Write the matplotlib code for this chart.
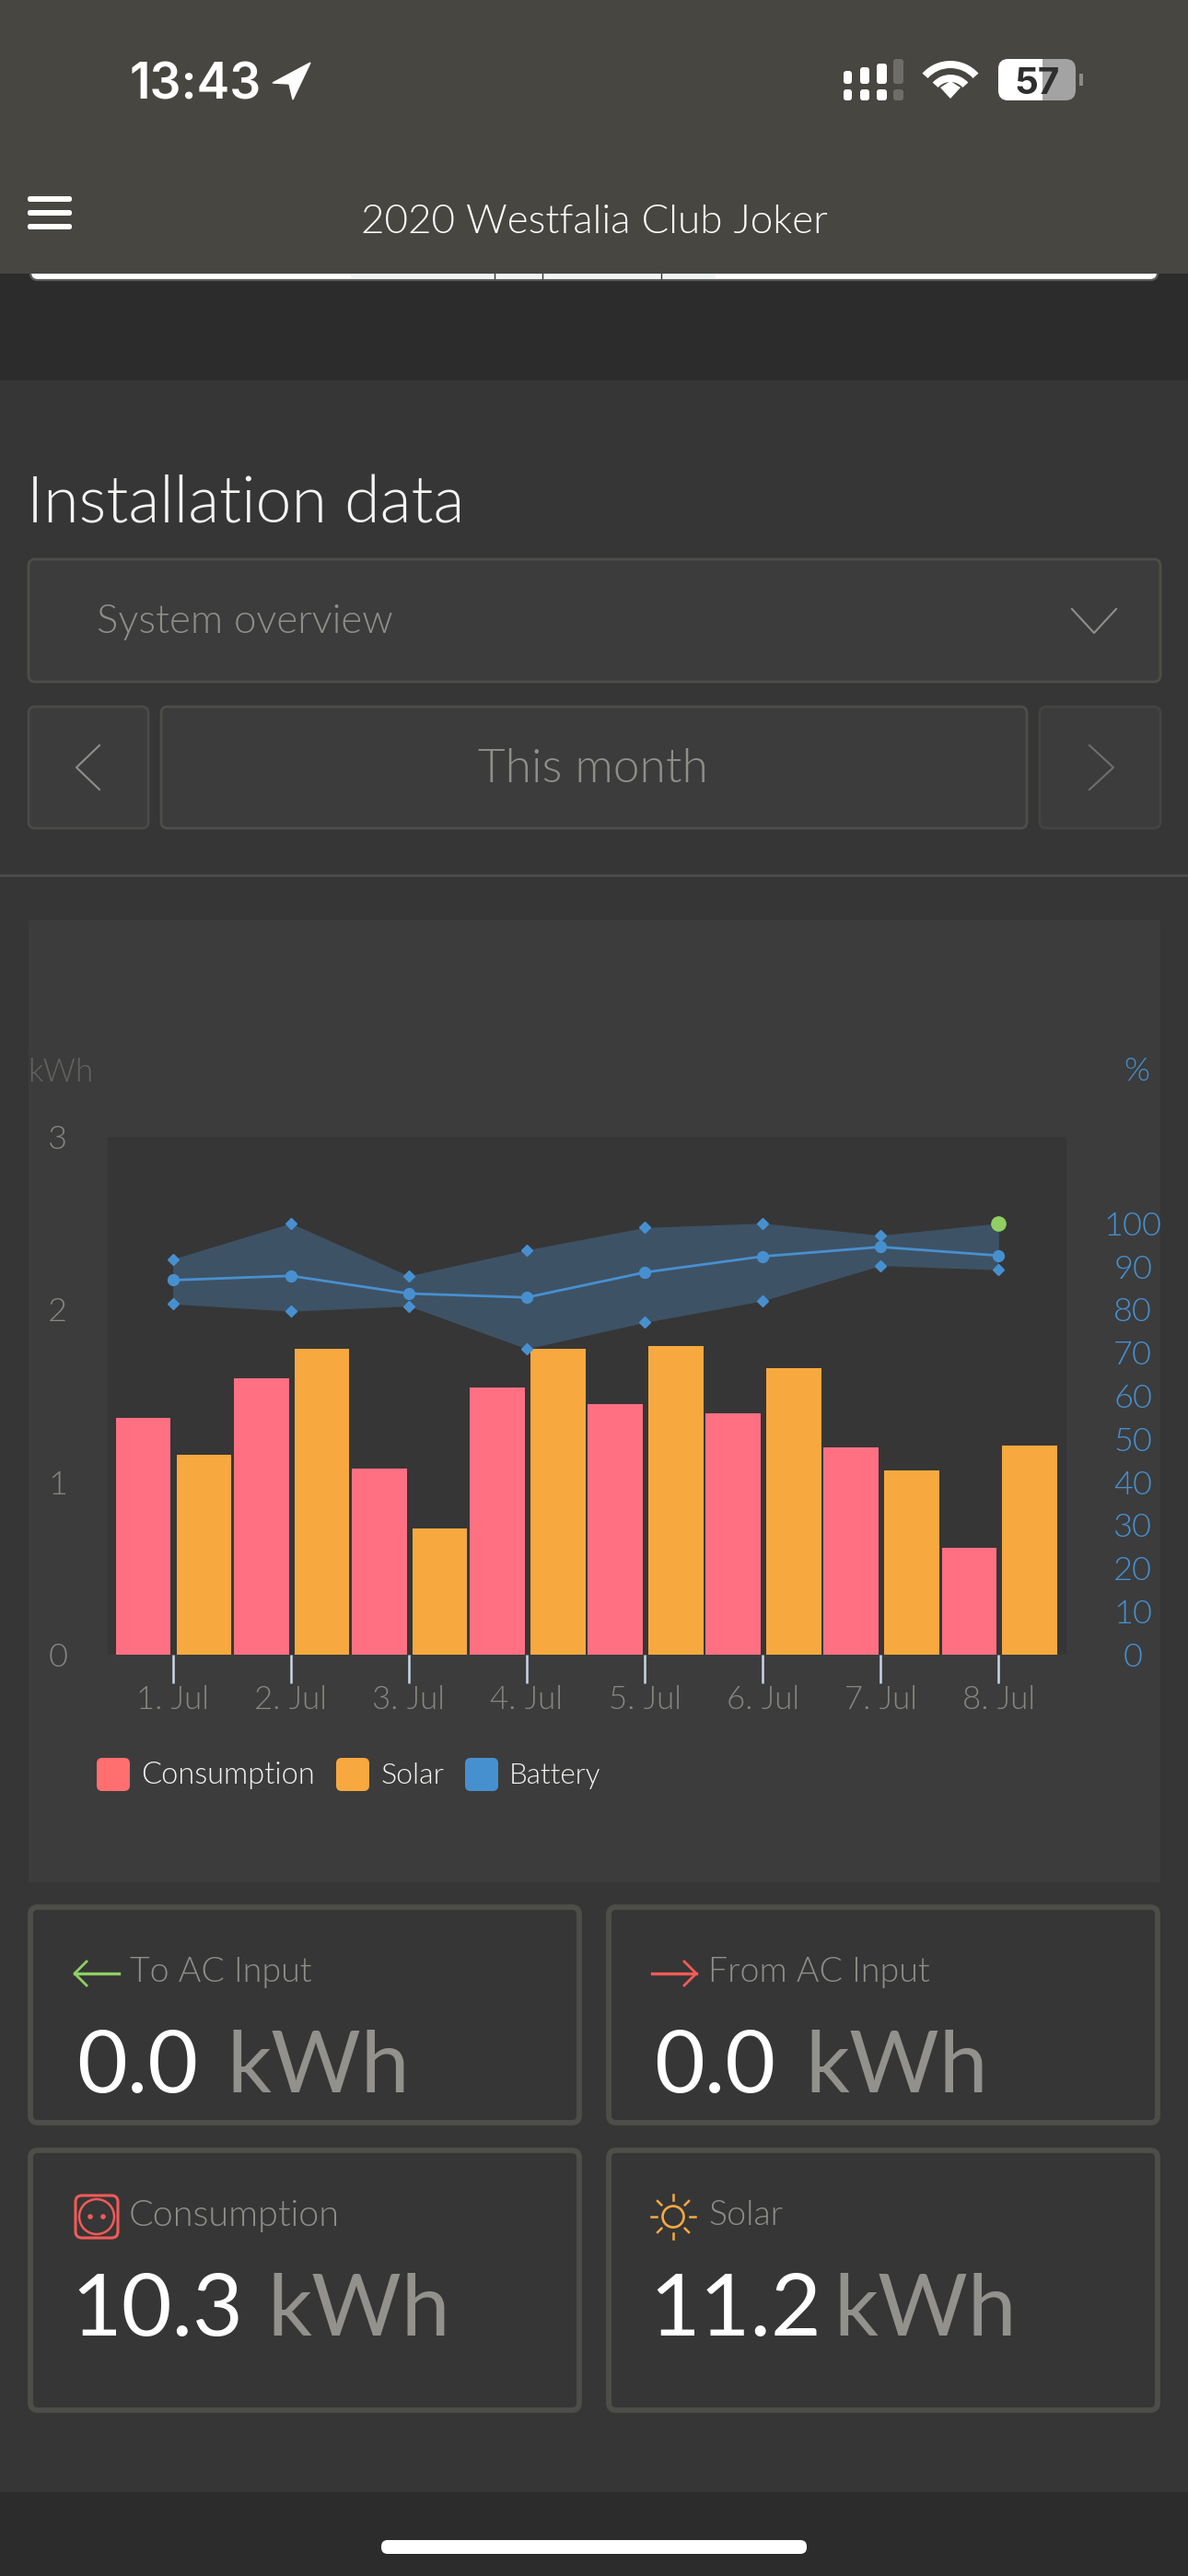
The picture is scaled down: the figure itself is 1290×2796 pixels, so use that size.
#!/usr/bin/env python3
"""Phone screenshot of the installation data page, drawn in pixel coordinates."""

import numpy as np
import matplotlib
matplotlib.use('Agg')
import matplotlib.pyplot as plt
from matplotlib.patches import Circle, FancyBboxPatch, Polygon, Rectangle, Wedge

plt.rcParams['font.family'] = ['Lato', 'DejaVu Sans']

W, H = 1290, 2796

days = ['1. Jul', '2. Jul', '3. Jul', '4. Jul', '5. Jul', '6. Jul', '7. Jul', '8. Jul']
consumption = [1.37, 1.60, 1.08, 1.55, 1.45, 1.40, 1.20, 0.62]
solar = [1.16, 1.77, 0.73, 1.77, 1.79, 1.66, 1.07, 1.21]
battery_mean = [86.8, 87.8, 83.7, 82.8, 88.6, 92.3, 94.5, 92.5]
battery_max = [91.7, 100, 87.8, 93.8, 99, 100, 97.2, 100]
battery_min = [81.3, 79.6, 80.8, 70.9, 77, 82, 90.2, 89.2]
kwh_ticks = [0, 1, 2, 3]
pct_ticks = [0, 10, 20, 30, 40, 50, 60, 70, 80, 90, 100]
legend_names = ['Consumption', 'Solar', 'Battery']
card_titles = ['To AC Input', 'From AC Input', 'Consumption', 'Solar']
card_values = ['0.0', '0.0', '10.3', '11.2']

BAR = '#2c2c2c'
TOP = '#474641'
SECTION = '#363636'
CARD = '#3c3c3c'
BORDER = '#4e4e49'
GREY = '#8f8e89'
RED = '#ff7083'
ORANGE = '#f7a93f'
BLUE = '#4790d0'
GREEN = '#8fcf63'
LIGHT = 300


def box(ax, x0, y0, x1, y1, face='none', edge=BORDER, lw=2.0, r=8, z=2):
    ax.add_patch(FancyBboxPatch((x0 + r, y0 + r), x1 - x0 - 2 * r, y1 - y0 - 2 * r,
                                boxstyle=f'round,pad={r},rounding_size={r}',
                                fc=face, ec=edge, lw=lw, zorder=z))


def draw_status(ui):
    ui.text(141, 107, '13:43', color='white', fontsize=38.5, fontweight='semibold',
            family=['Inter', 'DejaVu Sans'], va='baseline')
    ui.add_patch(Polygon([[296, 90], [337, 68], [318, 108], [314, 91]], fc='white', ec='white', lw=1, zorder=2))

    # signal dots, two rows
    for x0, x1, top, c in [(916, 925, 77, 'white'), (934, 944, 73, 'white'),
                           (952, 963, 69, 'white'), (970, 981, 64, '#6e6d69')]:
        box(ui, x0, top, x1, 91, face=c, edge='none', lw=0, r=3)
        box(ui, x0, 97, x1, 109, face=c, edge='none', lw=0, r=3)

    # wifi
    for r, width in [(41, 8), (26, 8)]:
        ui.add_patch(Wedge((1032, 107), r, 222, 318, width=width, fc='white', ec='none', zorder=2))
    ui.add_patch(Polygon([[1021, 95], [1032, 88], [1043, 95], [1032, 107]], fc='white', ec='none', zorder=2))

    # battery
    box(ui, 1084, 64, 1168, 109, face='#a3a3a3', edge='none', lw=0, r=11)
    box(ui, 1084, 64, 1146, 109, face='white', edge='none', lw=0, r=11, z=3)
    ui.add_patch(Rectangle((1132, 64), 16, 45, fc='#a3a3a3', ec='none', zorder=3))
    ui.add_patch(Rectangle((1172, 80), 4, 13, fc='#8a8a87', ec='none', zorder=2))
    ui.text(1126, 102, '57', color='#2e2e2e', fontsize=29, fontweight='bold', ha='center',
            va='baseline', family=['Inter', 'DejaVu Sans'], zorder=4)

    for y in (213, 228, 243):
        box(ui, 30, y, 78, y + 6, face='white', edge='none', lw=0, r=2.5)
    ui.text(645, 253, '2020 Westfalia Club Joker', color='white', fontsize=31.7, fontweight=LIGHT,
            ha='center', va='baseline')


def draw_controls(ui):
    ui.text(29, 567, 'Installation data', color='#f4f4f2', fontsize=50.3, fontweight=LIGHT, va='baseline')
    box(ui, 31, 607, 1260, 740, face=CARD, r=7)
    ui.text(105, 687, 'System overview', color=GREY, fontsize=31.5, fontweight=LIGHT, va='baseline')
    ui.plot([1164, 1188, 1212], [661, 687, 661], color='#8f8f8b', lw=1.5, zorder=3)

    box(ui, 31, 767, 161, 899, face=CARD, edge='#4a4a47', r=7)
    box(ui, 175, 767, 1115, 899, face=CARD, r=7)
    box(ui, 1129, 767, 1260, 899, face=CARD, edge='#444442', r=7)
    ui.text(644, 849, 'This month', color=GREY, fontsize=37, fontweight=LIGHT, ha='center', va='baseline')
    ui.plot([108, 83, 108], [809, 833, 857], color='#8f8f8b', lw=1.5, zorder=3)
    ui.plot([1183, 1209, 1183], [809, 833, 857], color='#6e6e6b', lw=1.5, zorder=3)
    ui.plot([0, W], [950, 950], color='#50504b', lw=1.8)


def draw_chart(fig, ui):
    ui.add_patch(Rectangle((31, 999), 1229, 1044, fc=CARD, ec='none'))
    ui.text(30, 1164, 'kWh', color='#62625f', fontsize=25, fontweight=LIGHT, va='center')
    ui.text(1234, 1163, '%', color=BLUE, fontsize=26, fontweight=LIGHT, ha='center', va='center')

    left, right, top, bottom = 117, 1158, 1234, 1796
    ax = fig.add_axes([left / W, 1 - bottom / H, (right - left) / W, (bottom - top) / H])
    ax.set_facecolor(SECTION)
    x = np.arange(len(days))
    ax.bar(x - 0.482, consumption, width=0.465, align='edge', color=RED)
    ax.bar(x + 0.032, solar, width=0.465, align='edge', color=ORANGE)
    ax.set_xlim(-0.551, 7.575)
    ax.set_ylim(0, 3)
    ax.set_xticks(x, days)
    ax.set_yticks(kwh_ticks)
    ax.tick_params(axis='x', length=22, width=1.8, color='#c8d6ea', labelcolor='#868681',
                   labelsize=25, pad=2)
    ax.tick_params(axis='y', length=0, labelcolor='#868681', labelsize=26, pad=39)
    for lab in ax.get_yticklabels():
        lab.set_ha('center')
        lab.set_fontweight(LIGHT)
    for lab in ax.get_xticklabels():
        lab.set_fontweight(LIGHT)

    ax2 = ax.twinx()
    ax2.set_ylim(0, 120)
    ax2.fill_between(x, battery_min, battery_max, color='#3e5265', lw=0)
    ax2.plot(x, battery_mean, color=BLUE, lw=2, marker='o', ms=8.5)
    ax2.plot(x[:-1], battery_max[:-1], ls='none', marker='D', ms=6.5, color=BLUE)
    ax2.plot(x, battery_min, ls='none', marker='D', ms=6.5, color=BLUE)
    ax2.plot(x[-1:], battery_max[-1:], ls='none', marker='o', ms=11, color=GREEN)
    ax2.set_yticks(pct_ticks)
    ax2.tick_params(axis='y', length=0, labelcolor=BLUE, labelsize=26, pad=52)
    for lab in ax2.get_yticklabels():
        lab.set_ha('center')
        lab.set_fontweight(LIGHT)
    for a in (ax, ax2):
        for s in a.spines.values():
            s.set_visible(False)

    # legend
    swatches = ['#ff6f6f', ORANGE, BLUE]
    for name, c, sx, tx, size in zip(legend_names, swatches, [105, 365, 505], [153, 414, 553], [23.5, 23, 22.5]):
        box(ui, sx, 1908, sx + 36, 1944, face=c, edge='none', lw=0, r=6, z=3)
        ui.text(tx, 1927, name, color='#f4f4f2', fontsize=size, fontweight=LIGHT, va='center')


def draw_card_icons(ui):
    # arrows
    ui.plot([81, 129], [2142, 2142], color=GREEN, lw=2.4)
    ui.plot([94, 81, 94], [2129, 2142, 2155], color=GREEN, lw=2.0)
    ui.plot([708, 756], [2142, 2142], color='#f25b57', lw=2.4)
    ui.plot([743, 756, 743], [2129, 2142, 2155], color='#f25b57', lw=2.0)

    # socket
    box(ui, 82, 2383, 128, 2429, edge='#f25b57', lw=2.2, r=7)
    ui.add_patch(Circle((105, 2406), 19, fc='none', ec='#f25b57', lw=1.8))
    ui.add_patch(Circle((98, 2406), 2.8, fc='#f25b57', ec='none'))
    ui.add_patch(Circle((112, 2406), 2.8, fc='#f25b57', ec='none'))

    # sun
    ui.add_patch(Circle((731, 2406), 11.5, fc='none', ec=ORANGE, lw=1.9))
    for ang in np.deg2rad(np.arange(0, 360, 45)):
        ui.plot([731 + 18 * np.cos(ang), 731 + 24 * np.cos(ang)],
                [2406 + 18 * np.sin(ang), 2406 + 24 * np.sin(ang)], color=ORANGE, lw=1.8)


def draw_cards(ui):
    rects = [(30, 2067, 632, 2307), (658, 2067, 1260, 2307),
             (30, 2331, 632, 2619), (658, 2331, 1260, 2619)]
    title_x = [141, 769, 140, 769]
    title_y = [2141, 2141, 2405, 2405]
    title_size = [27, 27, 28.5, 27]
    value_x = [83, 710, 77, 705]
    unit_x = [246, 874, 290, 905]
    baseline = [2271, 2271, 2535, 2535]
    for i in range(4):
        x0, y0, x1, y1 = rects[i]
        box(ui, x0 + 3, y0 + 3, x1 - 3, y1 - 3, lw=4.2, r=8)
        ui.text(title_x[i], title_y[i], card_titles[i], color=GREY, fontsize=title_size[i],
                fontweight=LIGHT, va='center')
        ui.text(value_x[i], baseline[i], card_values[i], color='white', fontsize=68, va='baseline')
        ui.text(unit_x[i], baseline[i], 'kWh', color='#92918c', fontsize=68, va='baseline')
    draw_card_icons(ui)


def main():
    fig = plt.figure(figsize=(W / 100, H / 100), dpi=100)
    ui = fig.add_axes([0, 0, 1, 1])
    ui.set_xlim(0, W)
    ui.set_ylim(H, 0)
    ui.axis('off')

    ui.add_patch(Rectangle((0, 0), W, H, fc=SECTION, ec='none', zorder=0))
    ui.add_patch(Rectangle((0, 297), W, 116, fc=BAR, ec='none', zorder=0))
    ui.add_patch(Rectangle((0, 2705), W, 91, fc=BAR, ec='none', zorder=0))
    box(ui, 33, 270, 1257, 304, face='white', edge='#5a5a57', lw=1.6, r=8, z=0.2)
    ui.add_patch(Rectangle((381, 297), 396, 5, fc='#eef6f8', ec='none', zorder=0.3))
    for tx in (537, 589, 718):
        ui.plot([tx, tx], [297, 302], color='#333333', lw=1, zorder=0.4)
    ui.add_patch(Rectangle((0, 0), W, 297, fc=TOP, ec='none', zorder=0.5))
    box(ui, 414, 2757, 876, 2772, face='white', edge='none', lw=0, r=7)

    draw_status(ui)
    draw_controls(ui)
    draw_chart(fig, ui)
    draw_cards(ui)

    fig.savefig('out.png', dpi=100, facecolor=SECTION)


if __name__ == '__main__':
    main()
